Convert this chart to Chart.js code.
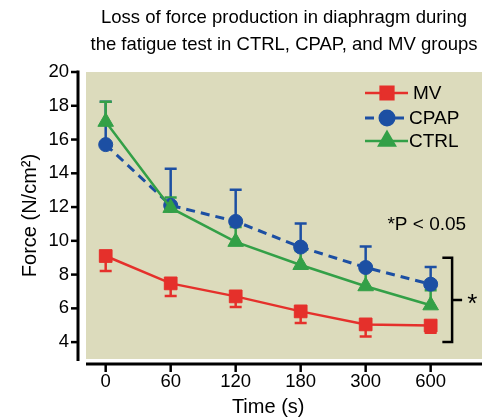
<!DOCTYPE html>
<html>
<head>
<meta charset="utf-8">
<script src="https://cdn.jsdelivr.net/npm/chart.js@4.4.0/dist/chart.umd.min.js"></script>
<style>
  html, body { margin: 0; padding: 0; background: #ffffff; }
  #wrap { width: 492px; height: 418px; }
</style>
</head>
<body>
<div id="wrap"><canvas id="forceChart"></canvas></div>
<script>
// time points (s) and y ticks
var timeLabels = ['0', '60', '120', '180', '300', '600'];
var yTicks = [4, 6, 8, 10, 12, 14, 16, 18, 20];

// mean force (N/cm2)
var mvForce   = [9.1, 7.48, 6.71, 5.82, 5.05, 4.98];
var cpapForce = [15.7, 12.1, 11.15, 9.63, 8.42, 7.43];
var ctrlForce = [17.05, 11.95, 9.94, 8.57, 7.31, 6.18];

// SD - MV is drawn downward, CPAP and CTRL upward
var mvErr   = [0.88, 0.75, 0.63, 0.69, 0.71, 0.42];
var cpapErr = [2.54, 2.17, 1.87, 1.40, 1.24, 1.02];
var ctrlErr = [1.19, 0.62, 0.88, 0.83, 0.95, 0.89];

var FONT = '"Liberation Sans", Arial, sans-serif';
var RED = '#e5302b';
var BLUE = '#1c4fa3';
var GREEN = '#33a047';
var PANEL = '#dcdbbc';

function toPoints(values) {
    return values.map(function (v, i) { return { x: i, y: v }; });
}

/// SUMMARY
///        khaki panel behind the data
var panelPlugin = {
    id: 'panel',
    beforeDraw: function (chart) {
        var a = chart.chartArea;
        var ctx = chart.ctx;
        ctx.save();
        ctx.fillStyle = PANEL;
        ctx.fillRect(a.left, a.top, a.right - a.left, a.bottom - a.top);
        ctx.restore();
    }
};

/// SUMMARY
///        one-sided error bars
var errorBarPlugin = {
    id: 'errorBars',
    beforeDatasetsDraw: function (chart) {
        var ctx = chart.ctx;
        var xs = chart.scales.x;
        var ys = chart.scales.y;
        ctx.save();
        chart.data.datasets.forEach(function (ds) {
            ctx.strokeStyle = ds.borderColor;
            ctx.lineWidth = 2.5;
            ds.data.forEach(function (p, i) {
                var px = xs.getPixelForValue(p.x);
                var y0 = ys.getPixelForValue(p.y);
                var y1 = ys.getPixelForValue(p.y + ds.errDir * ds.err[i]);
                ctx.beginPath();
                ctx.moveTo(px, y0);
                ctx.lineTo(px, y1);
                ctx.moveTo(px - 6, y1);
                ctx.lineTo(px + 6, y1);
                ctx.stroke();
            });
        });
        ctx.restore();
    }
};

/// SUMMARY
///        detached axis lines, legend and significance marks
var decorPlugin = {
    id: 'decor',
    afterDraw: function (chart) {
        var ctx = chart.ctx;
        var a = chart.chartArea;
        var xs = chart.scales.x;
        var ys = chart.scales.y;
        ctx.save();
        ctx.strokeStyle = '#000';
        ctx.fillStyle = '#000';
        ctx.lineWidth = 3;

        // y axis
        var axX = a.left - 8;
        ctx.beginPath();
        ctx.moveTo(axX, ys.getPixelForValue(20) - 1.5);
        ctx.lineTo(axX, a.bottom + 2);
        ctx.stroke();
        ctx.lineWidth = 2.5;
        yTicks.forEach(function (v) {
            var py = ys.getPixelForValue(v);
            ctx.beginPath();
            ctx.moveTo(axX - 7, py);
            ctx.lineTo(axX, py);
            ctx.stroke();
        });

        // x axis
        var axY = a.bottom + 5;
        ctx.lineWidth = 3;
        ctx.beginPath();
        ctx.moveTo(a.left, axY);
        ctx.lineTo(a.right, axY);
        ctx.stroke();
        ctx.lineWidth = 2.5;
        timeLabels.forEach(function (t, i) {
            var px = xs.getPixelForValue(i);
            ctx.beginPath();
            ctx.moveTo(px, axY);
            ctx.lineTo(px, axY + 8);
            ctx.stroke();
        });

        // x axis title
        ctx.font = '20px ' + FONT;
        ctx.textAlign = 'center';
        ctx.textBaseline = 'middle';
        ctx.fillText('Time (s)', xs.getPixelForValue(2.5), 407);

        // legend
        var entries = [
            { text: 'MV', color: RED, style: 'rect', r: 9, dash: [] },
            { text: 'CPAP', color: BLUE, style: 'circle', r: 7, dash: [9, 6] },
            { text: 'CTRL', color: GREEN, style: 'triangle', r: 9, dash: [] }
        ];
        var rowY = [93, 118, 141];
        ctx.font = '19px ' + FONT;
        ctx.textAlign = 'left';
        entries.forEach(function (e, i) {
            var y = rowY[i];
            ctx.strokeStyle = e.color;
            ctx.fillStyle = e.color;
            ctx.lineWidth = e.dash.length ? 3 : 2.5;
            ctx.setLineDash(e.dash);
            ctx.beginPath();
            ctx.moveTo(365, y);
            ctx.lineTo(408, y);
            ctx.stroke();
            ctx.setLineDash([]);
            Chart.helpers.drawPoint(ctx, { pointStyle: e.style, radius: e.r, rotation: 0, borderWidth: 1 }, 387, y);
            ctx.fillStyle = '#000';
            ctx.fillText(e.text, i === 0 ? 413 : 409, y + 1);
        });

        // significance
        ctx.fillStyle = '#000';
        ctx.strokeStyle = '#000';
        ctx.textAlign = 'center';
        ctx.font = '19px ' + FONT;
        ctx.fillText('*P < 0.05', xs.getPixelForValue(4.94), ys.getPixelForValue(10.93));

        var bx = xs.getPixelForValue(5.33);
        var bl = xs.getPixelForValue(5.18);
        var bt = ys.getPixelForValue(9.0);
        var bb = ys.getPixelForValue(4.0);
        var bm = (bt + bb) / 2;
        ctx.lineWidth = 2.5;
        ctx.beginPath();
        ctx.moveTo(bl, bt);
        ctx.lineTo(bx, bt);
        ctx.lineTo(bx, bb);
        ctx.lineTo(bl, bb);
        ctx.moveTo(bx, bm);
        ctx.lineTo(bx + 10, bm);
        ctx.stroke();
        ctx.font = '26px ' + FONT;
        ctx.fillText('*', xs.getPixelForValue(5.64), bm + 5);
        ctx.restore();
    }
};

function createForceChart(elementId) {
    var canvas = document.getElementById(elementId);

    var data = {
        datasets: [
            {
                label: 'MV',
                data: toPoints(mvForce),
                err: mvErr,
                errDir: -1,
                borderColor: RED,
                backgroundColor: RED,
                borderWidth: 2.5,
                pointStyle: 'rect',
                pointRadius: 9,
                pointBorderWidth: 1,
                order: 2
            },
            {
                label: 'CPAP',
                data: toPoints(cpapForce),
                err: cpapErr,
                errDir: 1,
                borderColor: BLUE,
                backgroundColor: BLUE,
                borderWidth: 3,
                borderDash: [9, 6],
                pointStyle: 'circle',
                pointRadius: 7,
                pointBorderWidth: 1,
                order: 1
            },
            {
                label: 'CTRL',
                data: toPoints(ctrlForce),
                err: ctrlErr,
                errDir: 1,
                borderColor: GREEN,
                backgroundColor: GREEN,
                borderWidth: 2.5,
                pointStyle: 'triangle',
                pointRadius: 9,
                pointBorderWidth: 1,
                order: 0
            }
        ]
    };

    var config = {
        type: 'line',
        data: data,
        options: {
            responsive: true,
            maintainAspectRatio: false,
            animation: false,
            layout: {
                padding: { left: 0, right: 4, top: 0, bottom: 0 }
            },
            scales: {
                x: {
                    type: 'linear',
                    min: -0.303,
                    max: 5.79,
                    afterBuildTicks: function (scale) {
                        scale.ticks = timeLabels.map(function (t, i) { return { value: i }; });
                    },
                    afterFit: function (scale) { scale.height = 59; },
                    grid: { display: false, drawTicks: false },
                    border: { display: false },
                    ticks: {
                        padding: 12,
                        color: '#000',
                        font: { family: FONT, size: 18.5 },
                        callback: function (v) { return timeLabels[v]; }
                    }
                },
                y: {
                    min: 3,
                    max: 20,
                    afterBuildTicks: function (scale) {
                        scale.ticks = yTicks.map(function (v) { return { value: v }; });
                    },
                    afterFit: function (scale) { scale.width = 86; },
                    grid: { display: false, drawTicks: false },
                    border: { display: false },
                    ticks: {
                        padding: 17,
                        color: '#000',
                        font: { family: FONT, size: 18.5 }
                    },
                    title: {
                        display: true,
                        text: 'Force (N/cm²)',
                        color: '#000',
                        font: { family: FONT, size: 20 },
                        padding: { top: 18, bottom: 0 }
                    }
                }
            },
            plugins: {
                legend: { display: false },
                tooltip: { enabled: false },
                title: {
                    display: true,
                    fullSize: false,
                    text: ['Loss of force production in diaphragm during', 'the fatigue test in CTRL, CPAP, and MV groups'],
                    color: '#000',
                    font: { family: FONT, size: 18.5, weight: 'normal', lineHeight: 1.46 },
                    padding: { top: 4.5, bottom: 13.5 }
                }
            }
        },
        plugins: [panelPlugin, errorBarPlugin, decorPlugin]
    };

    return new Chart(canvas, config);
}

createForceChart('forceChart');
</script>
</body>
</html>
